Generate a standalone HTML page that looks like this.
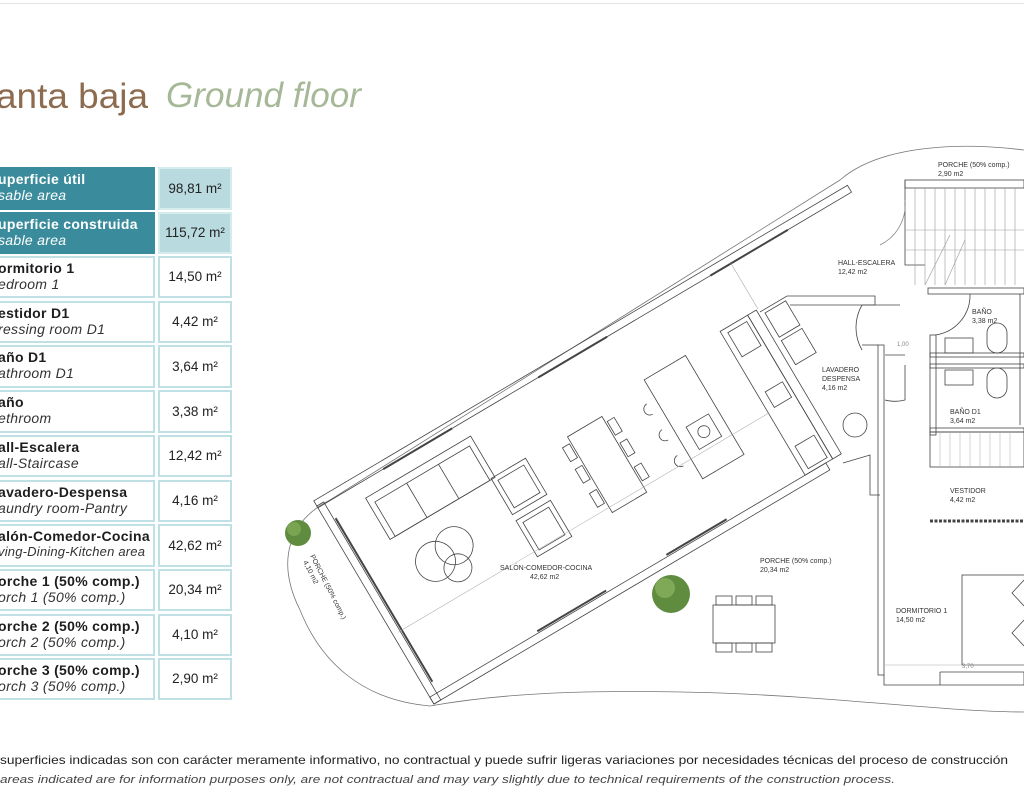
<!DOCTYPE html>
<html><head><meta charset="utf-8"><style>
html,body{margin:0;padding:0;background:#fff;width:1024px;height:800px;overflow:hidden;font-family:"Liberation Sans",sans-serif}
.c{position:absolute;box-sizing:border-box}
.l{left:-2px;width:157px;border:2px solid #bfe0e5;border-left:none;padding:2px 0 0 0;line-height:16px;overflow:hidden}
.v{left:158px;width:74px;border:2px solid #bfe0e5;text-align:center;font-size:13.5px;color:#222}
.b{font-weight:bold;font-size:14px;letter-spacing:0.3px;color:#1d1d1d;display:block;white-space:nowrap}
.i{font-style:italic;font-size:14px;letter-spacing:0.3px;color:#333;display:block;white-space:nowrap}
.d{background:#3a8c9c;border-color:#3a8c9c}
.d .b,.d .i{color:#fff}
.dv{background:#b9dbe0;border-color:#d5ecef}
</style></head><body>
<div class="c" style="left:0;top:3px;width:1024px;height:1px;background:#e4e4e4"></div>

<div class="c l d" style="top:167px;height:43px"><span class="b">uperficie útil</span><span class="i">sable area</span></div>
<div class="c v dv" style="top:167px;height:43px;line-height:39px">98,81 m²</div>
<div class="c l d" style="top:212px;height:42px"><span class="b">uperficie construida</span><span class="i">sable area</span></div>
<div class="c v dv" style="top:212px;height:42px;line-height:38px">115,72 m²</div>

<div class="c l" style="top:256px;height:42px"><span class="b">ormitorio 1</span><span class="i">edroom 1</span></div>
<div class="c v" style="top:256px;height:42px;line-height:38px">14,50 m²</div>
<div class="c l" style="top:301px;height:42px"><span class="b">estidor D1</span><span class="i">ressing room D1</span></div>
<div class="c v" style="top:301px;height:42px;line-height:38px">4,42 m²</div>
<div class="c l" style="top:345px;height:43px"><span class="b">año D1</span><span class="i">athroom D1</span></div>
<div class="c v" style="top:345px;height:43px;line-height:39px">3,64 m²</div>
<div class="c l" style="top:390px;height:43px"><span class="b">año</span><span class="i">ethroom</span></div>
<div class="c v" style="top:390px;height:43px;line-height:39px">3,38 m²</div>
<div class="c l" style="top:435px;height:42px"><span class="b">all-Escalera</span><span class="i">all-Staircase</span></div>
<div class="c v" style="top:435px;height:42px;line-height:38px">12,42 m²</div>
<div class="c l" style="top:480px;height:42px"><span class="b">avadero-Despensa</span><span class="i">aundry room-Pantry</span></div>
<div class="c v" style="top:480px;height:42px;line-height:38px">4,16 m²</div>
<div class="c l" style="top:524px;height:43px"><span class="b">alón-Comedor-Cocina</span><span class="i" style="font-size:13px;letter-spacing:0.2px">ving-Dining-Kitchen area</span></div>
<div class="c v" style="top:524px;height:43px;line-height:39px">42,62 m²</div>
<div class="c l" style="top:569px;height:42px"><span class="b">orche 1 (50% comp.)</span><span class="i">orch 1 (50% comp.)</span></div>
<div class="c v" style="top:569px;height:42px;line-height:38px">20,34 m²</div>
<div class="c l" style="top:614px;height:42px"><span class="b">orche 2 (50% comp.)</span><span class="i">orch 2 (50% comp.)</span></div>
<div class="c v" style="top:614px;height:42px;line-height:38px">4,10 m²</div>
<div class="c l" style="top:658px;height:42px"><span class="b">orche 3 (50% comp.)</span><span class="i">orch 3 (50% comp.)</span></div>
<div class="c v" style="top:658px;height:42px;line-height:38px">2,90 m²</div>

<svg class="c" style="left:0;top:0" width="1024" height="800" viewBox="0 0 1024 800">
<text x="-4" y="108" font-family="Liberation Sans,sans-serif" font-size="35" fill="#8d6b4f" textLength="152" lengthAdjust="spacingAndGlyphs">anta baja</text>
<text x="166" y="107" font-family="Liberation Sans,sans-serif" font-size="35" font-style="italic" fill="#a6b898" textLength="195" lengthAdjust="spacingAndGlyphs">Ground floor</text>
<g fill="none" stroke="#444" stroke-width="0.8">
<path d="M1024,150 C960,142 880,145 840,180 L330,500 C290,520 275,560 300,610 C320,660 360,700 430,706 C520,690 620,690 720,693 C850,698 950,712 1024,712" stroke="#777"/>
<g transform="translate(322,503) rotate(-30.6)">
<rect x="-6" y="-6" width="620" height="8"/>
<rect x="-6" y="0" width="8" height="230"/>
<rect x="-6" y="222" width="460" height="8"/>
<line x1="70" y1="2" x2="150" y2="2" stroke-width="2"/>
<line x1="250" y1="2" x2="330" y2="2" stroke-width="2"/>
<line x1="450" y1="2" x2="540" y2="2" stroke-width="2"/>
<line x1="4" y1="20" x2="4" y2="210" stroke-width="2"/>
<line x1="120" y1="220" x2="200" y2="220" stroke-width="2"/>
<line x1="270" y1="220" x2="340" y2="220" stroke-width="2"/>
<rect x="40" y="18" width="122" height="48"/>
<rect x="46" y="26" width="110" height="40"/>
<line x1="83" y1="26" x2="83" y2="66"/><line x1="120" y1="26" x2="120" y2="66"/>
<circle cx="68" cy="108" r="20"/><circle cx="92" cy="104" r="19"/><circle cx="84" cy="125" r="14"/>
<rect x="158" y="65" width="40" height="42"/><rect x="163" y="70" width="30" height="32"/>
<rect x="158" y="114" width="40" height="42"/><rect x="163" y="119" width="30" height="32"/>
<rect x="245" y="68" width="40" height="88"/>
<rect x="235" y="75" width="8" height="16"/><rect x="235" y="100" width="8" height="16"/><rect x="235" y="128" width="8" height="16"/>
<rect x="287" y="75" width="8" height="16"/><rect x="287" y="100" width="8" height="16"/><rect x="287" y="128" width="8" height="16"/>
<rect x="340" y="58" width="48" height="115"/>
<rect x="352" y="120" width="26" height="26"/><circle cx="365" cy="133" r="6"/>
<path d="M330,80 a6,6 0 0 0 0,12 M330,110 a6,6 0 0 0 0,12 M330,140 a6,6 0 0 0 0,12"/>
<rect x="430" y="55" width="32" height="167"/>
<rect x="462" y="55" width="10" height="167"/>
<rect x="436" y="60" width="22" height="28"/>
<rect x="438" y="130" width="20" height="18"/>
<rect x="436" y="192" width="22" height="26"/>
<rect x="478" y="62" width="24" height="28"/><rect x="478" y="94" width="24" height="28"/>
<line x1="474" y1="0" x2="474" y2="55" stroke="#999" stroke-width="0.5"/>
<line x1="0" y1="150" x2="430" y2="150" stroke="#aaa" stroke-width="0.5"/>
</g>
<path d="M760,312 L787,296 L875,296 L875,305 L790,305"/>
<circle cx="855" cy="425" r="12"/>
<path d="M862,305 A45,45 0 0 0 862,350 M862,305 L900,305"/>
<path d="M843,463 L870,455 L870,495 L880,495"/>
<rect x="878" y="345" width="6" height="330"/>
<path d="M878,345 L862,345"/>
<path d="M884,675 L884,685 L1024,685 M940,672 L1024,672 L1024,685 M940,672 L940,685"/>
<rect x="905" y="180" width="119" height="8"/>
<path d="M905,180 L905,265 L925,265"/>
<g stroke="#999" stroke-width="0.6">
<line x1="915" y1="188" x2="915" y2="285"/><line x1="925" y1="188" x2="925" y2="285"/><line x1="935" y1="188" x2="935" y2="285"/><line x1="945" y1="188" x2="945" y2="285"/><line x1="955" y1="188" x2="955" y2="285"/><line x1="965" y1="188" x2="965" y2="285"/><line x1="975" y1="188" x2="975" y2="285"/><line x1="985" y1="188" x2="985" y2="285"/><line x1="995" y1="188" x2="995" y2="285"/><line x1="1005" y1="188" x2="1005" y2="285"/><line x1="1015" y1="188" x2="1015" y2="285"/>
<line x1="905" y1="230" x2="1024" y2="230"/><line x1="905" y1="250" x2="1024" y2="250"/>
<line x1="925" y1="285" x2="950" y2="235"/><line x1="945" y1="285" x2="965" y2="240"/>
</g>
<path d="M905,200 A45,45 0 0 1 880,245" stroke="#888"/>
<rect x="928" y="288" width="96" height="6"/>
<path d="M970,294 A40,40 0 0 1 935,335"/>
<rect x="930" y="335" width="6" height="100"/>
<rect x="930" y="353" width="94" height="4"/><rect x="930" y="364" width="94" height="4"/>
<rect x="945" y="338" width="28" height="15"/><rect x="945" y="370" width="28" height="15"/>
<rect x="987" y="323" width="20" height="30" rx="10"/><rect x="987" y="368" width="20" height="30" rx="10"/>
<line x1="1020" y1="294" x2="1020" y2="425"/>
<path d="M885,355 L905,355 M905,365 L905,400 A40,40 0 0 1 885,400"/>
<rect x="930" y="428" width="94" height="4"/>
<rect x="930" y="432" width="94" height="35"/>
<g stroke="#aaa" stroke-width="0.5"><line x1="940" y1="432" x2="940" y2="467"/><line x1="950" y1="432" x2="950" y2="467"/><line x1="960" y1="432" x2="960" y2="467"/><line x1="970" y1="432" x2="970" y2="467"/><line x1="980" y1="432" x2="980" y2="467"/><line x1="990" y1="432" x2="990" y2="467"/><line x1="1000" y1="432" x2="1000" y2="467"/><line x1="1010" y1="432" x2="1010" y2="467"/></g>
<line x1="930" y1="521" x2="1024" y2="521" stroke-dasharray="3,1.5" stroke-width="3"/>
<rect x="962" y="575" width="70" height="90"/>
<path d="M1024,580 L1012,593 L1024,606 M1024,620 L1012,633 L1024,646"/>
<line x1="885" y1="665" x2="1024" y2="665" stroke="#aaa" stroke-width="0.5"/>
<rect x="713" y="605" width="62" height="38"/>
<rect x="716" y="596" width="16" height="9"/><rect x="736" y="596" width="16" height="9"/><rect x="756" y="596" width="16" height="9"/>
<rect x="716" y="643" width="16" height="9"/><rect x="736" y="643" width="16" height="9"/><rect x="756" y="643" width="16" height="9"/>
</g>
<circle cx="298" cy="533" r="13" fill="#5f8c3e"/><circle cx="294" cy="529" r="7" fill="#7aa452"/>
<circle cx="671" cy="594" r="19" fill="#5f8c3e"/><circle cx="665" cy="588" r="10" fill="#7fa957"/>
<g font-family="Liberation Sans,sans-serif" font-size="7" fill="#333">
<text x="938" y="167">PORCHE (50% comp.)</text><text x="938" y="176">2,90 m2</text>
<text x="838" y="265">HALL-ESCALERA</text><text x="838" y="274">12,42 m2</text>
<text x="972" y="314">BAÑO</text><text x="972" y="323">3,38 m2</text>
<text x="822" y="372">LAVADERO</text><text x="822" y="381">DESPENSA</text><text x="822" y="390">4,16 m2</text>
<text x="950" y="414">BAÑO D1</text><text x="950" y="423">3,64 m2</text>
<text x="950" y="493">VESTIDOR</text><text x="950" y="502">4,42 m2</text>
<text x="760" y="563">PORCHE (50% comp.)</text><text x="760" y="572">20,34 m2</text>
<text x="500" y="570">SALÓN-COMEDOR-COCINA</text><text x="530" y="579">42,62 m2</text>
<text x="896" y="613">DORMITORIO 1</text><text x="896" y="622">14,50 m2</text>
<text x="897" y="346" fill="#888" font-size="6">1,00</text>
<text x="962" y="668" fill="#888" font-size="6">3,70</text>
<text transform="translate(310,556) rotate(63)">PORCHE (50% comp.)</text>
<text transform="translate(303,562) rotate(63)">4,10 m2</text>
</g>
<text x="0" y="764" font-family="Liberation Sans,sans-serif" font-size="12" fill="#222" textLength="1008" lengthAdjust="spacingAndGlyphs">superficies indicadas son con carácter meramente informativo, no contractual y puede sufrir ligeras variaciones por necesidades técnicas del proceso de construcción</text>
<text x="0" y="783" font-family="Liberation Sans,sans-serif" font-size="11" font-style="italic" fill="#444" textLength="895" lengthAdjust="spacingAndGlyphs">areas indicated are for information purposes only, are not contractual and may vary slightly due to technical requirements of the construction process.</text>
</svg>
</body></html>
